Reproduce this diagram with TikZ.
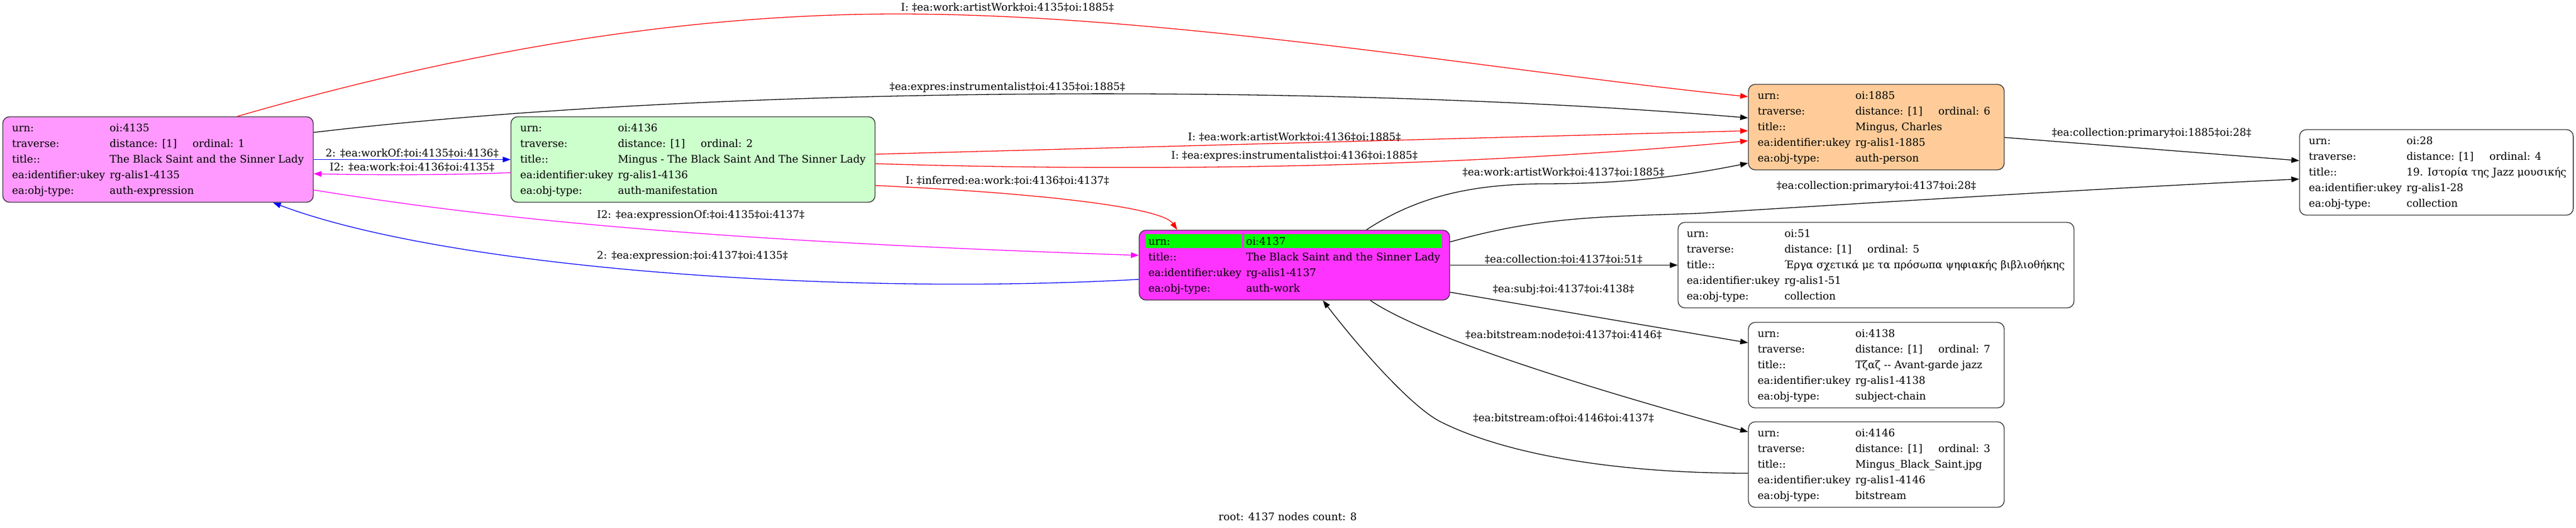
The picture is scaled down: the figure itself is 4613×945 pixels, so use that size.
\documentclass[tikz,border=0pt]{standalone}
\usepackage{fontspec}
\setmainfont{DejaVu Serif}
\usetikzlibrary{arrows.meta,calc}
\definecolor{cpink}{HTML}{FF99FF}
\definecolor{cgreenl}{HTML}{CCFFCC}
\definecolor{cmag}{HTML}{FF33FF}
\definecolor{corange}{HTML}{FFCC99}
\definecolor{cgreen}{HTML}{00FF00}
\definecolor{ered}{HTML}{FF0000}
\definecolor{eblue}{HTML}{0000FF}
\definecolor{emag}{HTML}{FF00FF}
\definecolor{bord}{HTML}{333333}
\newcommand{\rw}[2]{\makebox[175pt][l]{#1}#2\rule[-8pt]{0pt}{28pt}}
\newcommand{\trv}[1]{\makebox[148.5pt][l]{distance: [1]}ordinal: #1}
\begin{document}
\begin{tikzpicture}[x=1pt,y=-1pt,
  box/.style={draw=bord,line width=1.4pt,rounded corners=12pt,inner sep=0,minimum height=153pt},
  txt/.style={anchor=north west,inner sep=0,align=left,font=\fontsize{18.67}{28}\selectfont},
  lbl/.style={anchor=base,inner sep=0,font=\fontsize{18.67}{22}\selectfont},
  edge/.style={line width=1.3pt,-{Triangle[length=14pt,width=10pt]}}]
\useasboundingbox (0,0) rectangle (4613,945);

% boxes
\node[box,fill=cpink,minimum width=556pt] (b4135) at (283,285.5) {};
\node[box,fill=cgreenl,minimum width=652pt] (b4136) at (1241,285.5) {};
\node[box,fill=cmag,minimum width=556pt,minimum height=125pt] (b4137) at (2318,474.5) {};
\node[box,fill=corange,minimum width=458pt] (b1885) at (3360,227.5) {};
\node[box,fill=white,minimum width=709pt] (b51) at (3359.5,474.5) {};
\node[box,fill=white,minimum width=490pt] (b28) at (4363,308.5) {};
\node[box,fill=white,minimum width=458pt] (b4138) at (3360,653.5) {};
\node[box,fill=white,minimum width=458pt] (b4146) at (3360,831.5) {};

\fill[cgreen] ([xshift=13pt,yshift=-8pt]b4137.north west) rectangle ([xshift=185pt,yshift=-33pt]b4137.north west);
\fill[cgreen] ([xshift=189pt,yshift=-8pt]b4137.north west) rectangle ([xshift=543pt,yshift=-33pt]b4137.north west);

% texts
\node[txt] (t4135) at ([xshift=17pt,yshift=-6.5pt]b4135.north west) {\rw{urn:}{oi:4135}\\\rw{traverse:}{\trv{1}}\\\rw{title::}{The Black Saint and the Sinner Lady}\\\rw{ea:identifier:ukey}{rg-alis1-4135}\\\rw{ea:obj-type:}{auth-expression}};
\node[txt] (t4136) at ([xshift=17pt,yshift=-6.5pt]b4136.north west) {\rw{urn:}{oi:4136}\\\rw{traverse:}{\trv{2}}\\\rw{title::}{Mingus - The Black Saint And The Sinner Lady}\\\rw{ea:identifier:ukey}{rg-alis1-4136}\\\rw{ea:obj-type:}{auth-manifestation}};
\node[txt] (t4137) at ([xshift=17pt,yshift=-6.5pt]b4137.north west) {\rw{urn:}{oi:4137}\\\rw{title::}{The Black Saint and the Sinner Lady}\\\rw{ea:identifier:ukey}{rg-alis1-4137}\\\rw{ea:obj-type:}{auth-work}};
\node[txt] (t1885) at ([xshift=17pt,yshift=-6.5pt]b1885.north west) {\rw{urn:}{oi:1885}\\\rw{traverse:}{\trv{6}}\\\rw{title::}{Mingus, Charles}\\\rw{ea:identifier:ukey}{rg-alis1-1885}\\\rw{ea:obj-type:}{auth-person}};
\node[txt] (t51) at ([xshift=16pt,yshift=-6.5pt]b51.north west) {\rw{urn:}{oi:51}\\\rw{traverse:}{\trv{5}}\\\rw{title::}{Έργα σχετικά με τα πρόσωπα ψηφιακής βιβλιοθήκης}\\\rw{ea:identifier:ukey}{rg-alis1-51}\\\rw{ea:obj-type:}{collection}};
\node[txt] (t28) at ([xshift=17pt,yshift=-6.5pt]b28.north west) {\rw{urn:}{oi:28}\\\rw{traverse:}{\trv{4}}\\\rw{title::}{19. Ιστορία της Jazz μουσικής}\\\rw{ea:identifier:ukey}{rg-alis1-28}\\\rw{ea:obj-type:}{collection}};
\node[txt] (t4138) at ([xshift=17pt,yshift=-6.5pt]b4138.north west) {\rw{urn:}{oi:4138}\\\rw{traverse:}{\trv{7}}\\\rw{title::}{Τζαζ -\kern0pt- Avant-garde jazz}\\\rw{ea:identifier:ukey}{rg-alis1-4138}\\\rw{ea:obj-type:}{subject-chain}};
\node[txt] (t4146) at ([xshift=17pt,yshift=-6.5pt]b4146.north west) {\rw{urn:}{oi:4146}\\\rw{traverse:}{\trv{3}}\\\rw{title::}{Mingus\_Black\_Saint.jpg}\\\rw{ea:identifier:ukey}{rg-alis1-4146}\\\rw{ea:obj-type:}{bitstream}};

% edges
\draw[edge,ered] ([xshift=142pt]b4135.north) .. controls (800,100) and (1200,25) .. (1608,25) .. controls (2100,25) and (2700,130) .. ([yshift=54.5pt]b1885.west);
\draw[edge,black] ([yshift=48.5pt]b4135.east) .. controls (1300,150) and (2400,150) .. ([yshift=16.5pt]b1885.west);
\draw[edge,eblue] (b4135.east) -- (b4136.west);
\draw[edge,emag] ([yshift=-23.5pt]b4136.west) .. controls (800,314) and (650,313) .. ([yshift=-25.5pt]b4135.east);
\draw[edge,ered] ([yshift=9.5pt]b4136.east) -- ([yshift=-6.5pt]b1885.west);
\draw[edge,ered] ([yshift=-7.5pt]b4136.east) .. controls (1900,303) and (2500,310) .. ([yshift=-24.5pt]b1885.west);
\draw[edge,ered] ([yshift=-46.5pt]b4136.east) .. controls (1850,345) and (2080,370) .. ([xshift=-210pt]b4137.north);
\draw[edge,black] ([xshift=129pt]b4137.north) .. controls (2540,350) and (2640,330) .. (2760,329) .. controls (2900,329) and (3000,318) .. ([yshift=-64.5pt]b1885.west);
\draw[edge,black] ([yshift=41.5pt]b4137.east) .. controls (2750,390) and (2850,388) .. (3040,382) .. controls (3400,360) and (3800,335) .. ([yshift=-12pt]b28.west);
\draw[edge,black] ([yshift=-18.5pt]b1885.east) -- ([yshift=21pt]b28.west);
\draw[edge,black] (b4137.east) -- (b51.west);
\draw[edge,black] ([yshift=-48.5pt]b4137.east) -- ([yshift=40pt]b4138.west);
\draw[edge,black] ([xshift=136pt]b4137.south) .. controls (2560,610) and (2900,710) .. ([yshift=58.5pt]b4146.west);
\draw[edge,black] ([yshift=-15.5pt]b4146.west) .. controls (2900,847) and (2700,815) .. (2580,755) .. controls (2530,730) and (2440,630) .. ([xshift=51pt]b4137.south);
\draw[edge,emag] ([yshift=-54.5pt]b4135.east) .. controls (900,395) and (1300,432) .. ([yshift=17.5pt]b4137.west);
\draw[edge,eblue] ([yshift=-25.5pt]b4137.west) .. controls (1500,530) and (800,480) .. ([xshift=206pt]b4135.south);

% labels
\node[lbl] (l1) at (1804,19.5) {I: ‡ea:work:artistWork‡oi:4135‡oi:1885‡};
\node[lbl] (l2) at (1804,161.5) {‡ea:expres:instrumentalist‡oi:4135‡oi:1885‡};
\node[lbl] (l3) at (738,280.5) {2: ‡ea:workOf:‡oi:4135‡oi:4136‡};
\node[lbl] (l4) at (738,305.5) {I2: ‡ea:work:‡oi:4136‡oi:4135‡};
\node[lbl] (l5) at (2318,251.5) {I: ‡ea:work:artistWork‡oi:4136‡oi:1885‡};
\node[lbl] (l6) at (2318,284.5) {I: ‡ea:expres:instrumentalist‡oi:4136‡oi:1885‡};
\node[lbl] (l7) at (1804,329.5) {I: ‡inferred:ea:work:‡oi:4136‡oi:4137‡};
\node[lbl] (l8) at (2800,314.5) {‡ea:work:artistWork‡oi:4137‡oi:1885‡};
\node[lbl] (l9) at (3360,338.5) {‡ea:collection:primary‡oi:4137‡oi:28‡};
\node[lbl] (l10) at (3853,243) {‡ea:collection:primary‡oi:1885‡oi:28‡};
\node[lbl] (l11) at (2800,470.5) {‡ea:collection:‡oi:4137‡oi:51‡};
\node[lbl] (l12) at (2800,523.5) {‡ea:subj:‡oi:4137‡oi:4138‡};
\node[lbl] (l13) at (2800,605.5) {‡ea:bitstream:node‡oi:4137‡oi:4146‡};
\node[lbl] (l14) at (2800,754.5) {‡ea:bitstream:of‡oi:4146‡oi:4137‡};
\node[lbl] (l15) at (1255,390.5) {I2: ‡ea:expressionOf:‡oi:4135‡oi:4137‡};
\node[lbl] (l16) at (1240,463.5) {2: ‡ea:expression:‡oi:4137‡oi:4135‡};
\node[lbl] (cap) at (2306,931.5) {root: 4137 nodes count: 8};
\end{tikzpicture}
\end{document}
